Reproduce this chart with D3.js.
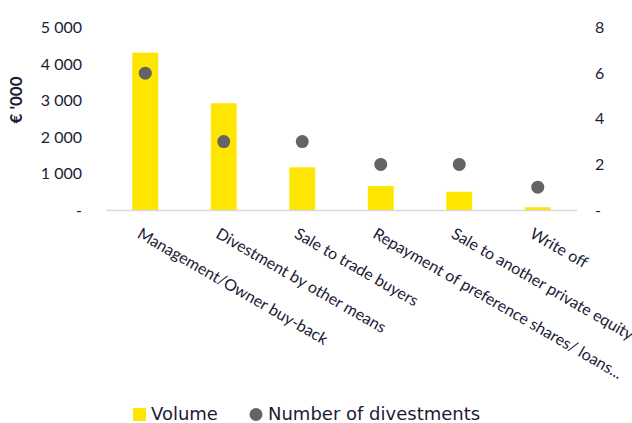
<!DOCTYPE html>
<html>
<head>
<meta charset="utf-8">
<script src="https://cdn.jsdelivr.net/npm/d3@7"></script>
<style>
  body { margin: 0; background: #fff; }
  svg { display: block; overflow: hidden; }
  .tick text { fill: #1b1b36; }
</style>
</head>
<body>
<svg id="chart" width="632" height="423"></svg>
<script>
// data
const categories = [
  "Management/Owner buy-back",
  "Divestment by other means",
  "Sale to trade buyers",
  "Repayment of preference shares/ loans...",
  "Sale to another private equity",
  "Write off"
];
const volume = [4310, 2925, 1170, 655, 500, 75];
const divestments = [6, 3, 3, 2, 2, 1];
const leftTicks = [0, 1000, 2000, 3000, 4000, 5000];
const rightTicks = [0, 2, 4, 6, 8];

const width = 632, height = 423;
const plot = { left: 106, right: 577, top: 27.5, bottom: 210 };

const svg = d3.select("#chart");

const x = d3.scaleBand()
  .domain(categories)
  .range([plot.left, plot.right])
  .paddingInner(0.67)
  .paddingOuter(0.335);

const yL = d3.scaleLinear().domain([0, 5000]).range([plot.bottom, plot.top]);
const yR = d3.scaleLinear().domain([0, 8]).range([plot.bottom, plot.top]);

const loc = d3.formatLocale({ decimal: ",", thousands: "\u00a0", grouping: [3], currency: ["", ""] });
const fmt = loc.format(",d");

// left axis
const gL = svg.append("g")
  .attr("transform", `translate(${plot.left},0)`)
  .call(d3.axisLeft(yL).tickValues(leftTicks).tickSize(0).tickPadding(24)
    .tickFormat(d => d === 0 ? "-" : fmt(d)));
gL.select(".domain").remove();
gL.selectAll("text").style("font-family", "Lato, sans-serif").style("font-size", "16px");

// right axis
const gR = svg.append("g")
  .attr("transform", `translate(${plot.right},0)`)
  .call(d3.axisRight(yR).tickValues(rightTicks).tickSize(0).tickPadding(18)
    .tickFormat(d => d === 0 ? "-" : d));
gR.select(".domain").remove();
gR.selectAll("text").style("font-family", "Lato, sans-serif").style("font-size", "16px");

// y title
svg.append("text")
  .attr("transform", `translate(22,100) rotate(-90)`)
  .attr("text-anchor", "middle")
  .style("font-family", "Lato, sans-serif")
  .style("font-size", "17px")
  .style("font-weight", "bold")
  .attr("fill", "#1b1b36")
  .text("€ '000");

// bars
svg.append("g").selectAll("rect")
  .data(categories)
  .join("rect")
  .attr("x", d => x(d))
  .attr("width", x.bandwidth())
  .attr("y", (d, i) => yL(volume[i]))
  .attr("height", (d, i) => yL(0) - yL(volume[i]))
  .attr("fill", "#ffe600");

// baseline
svg.append("line")
  .attr("x1", plot.left).attr("x2", plot.right)
  .attr("y1", yL(0) + 0.5).attr("y2", yL(0) + 0.5)
  .attr("stroke", "#d9d9d9").attr("stroke-width", 1.5);

// dots
svg.append("g").selectAll("circle")
  .data(categories)
  .join("circle")
  .attr("cx", d => x(d) + x.bandwidth() / 2)
  .attr("cy", (d, i) => yR(divestments[i]))
  .attr("r", 6.5)
  .attr("fill", "#646464");

// category labels
svg.append("g").selectAll("text")
  .data(categories)
  .join("text")
  .attr("transform", d => `translate(${x(d) + x.bandwidth() / 2 - 9},237) rotate(30)`)
  .style("font-family", "Lato, sans-serif")
  .style("font-size", "16px")
  .attr("fill", "#1b1b36")
  .text(d => d);

// legend
const leg = svg.append("g");
leg.append("rect").attr("x", 133).attr("y", 408).attr("width", 13).attr("height", 13).attr("fill", "#ffe600");
leg.append("text").attr("x", 151).attr("y", 420)
  .style("font-family", "'DejaVu Sans', sans-serif").style("font-size", "18px")
  .attr("fill", "#1b1b36").text("Volume");
leg.append("circle").attr("cx", 256).attr("cy", 414.5).attr("r", 6.5).attr("fill", "#646464");
leg.append("text").attr("x", 268).attr("y", 420)
  .style("font-family", "'DejaVu Sans', sans-serif").style("font-size", "18px")
  .attr("fill", "#1b1b36").text("Number of divestments");
</script>
</body>
</html>
